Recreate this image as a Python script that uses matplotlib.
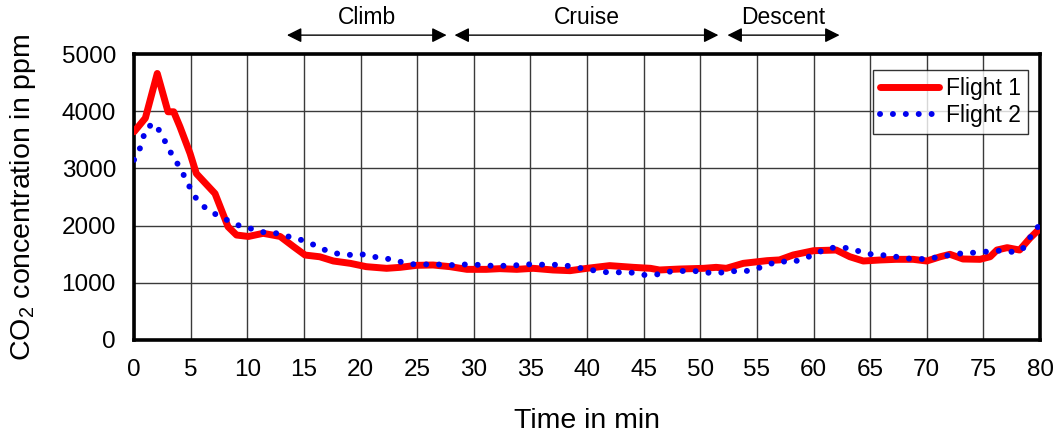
import matplotlib
matplotlib.use("Agg")
import matplotlib.pyplot as plt

plt.rcParams['font.family'] = ['Liberation Sans', 'DejaVu Sans']
plt.rcParams['mathtext.default'] = 'regular'

# Flight 1: CO2 concentration (ppm) over time (min)
t_flight1 = [0, 1.0, 2.05, 3.0, 3.5, 4.05, 4.95, 5.5, 7.15, 8.3, 9.05, 10.1, 11.4,
             12.9, 14.1, 15.1, 16.4, 17.6, 19.1, 20.5, 22.3, 23.5, 24.95, 26.4,
             27.9, 29.4, 31.1, 32.3, 33.8, 35.25, 37.0, 38.5, 40.0, 42.0, 44.1,
             45.6, 46.4, 48.2, 50.3, 51.4, 52.3, 53.8, 55.9, 57.0, 58.2, 60.0,
             62.0, 63.2, 64.4, 65.9, 67.3, 68.8, 70.0, 71.2, 72.05, 73.2, 74.7,
             75.6, 76.2, 77.1, 78.2, 79.1, 80]
co2_flight1 = [3640, 3880, 4660, 3990, 3990, 3730, 3260, 2910, 2560, 1980, 1835,
               1810, 1865, 1810, 1630, 1485, 1455, 1381, 1340, 1282, 1253, 1270,
               1305, 1311, 1282, 1235, 1235, 1247, 1235, 1253, 1224, 1212, 1253,
               1300, 1270, 1253, 1224, 1241, 1253, 1270, 1253, 1340, 1387, 1400,
               1486, 1561, 1573, 1456, 1381, 1399, 1410, 1410, 1381, 1456, 1498,
               1416, 1410, 1456, 1573, 1614, 1573, 1778, 1952]

# Flight 2
t_flight2 = [0, 0.4, 0.75, 1.05, 1.77, 2.45, 2.9, 3.4, 4.0, 4.5, 4.97, 5.56, 6.4,
             7.45, 8.4, 9.5, 10.5, 11.6, 12.65, 13.7, 14.75, 15.8, 16.7, 17.8,
             18.9, 20.0, 21.1, 22.2, 23.25, 24.3, 25.4, 26.5, 27.6, 28.7, 29.8,
             30.9, 32.0, 33.1, 34.2, 35.3, 36.4, 37.5, 38.6, 39.7, 40.75, 41.8,
             42.9, 44.0, 45.1, 46.2, 47.3, 48.4, 49.5, 50.6, 51.6, 52.7, 53.8,
             54.9, 55.9, 56.95, 58.0, 59.0, 60.1, 61.2, 62.2, 63.2, 64.3, 65.4,
             66.5, 67.6, 68.7, 69.8, 70.9, 72.0, 73.1, 74.2, 75.3, 76.4, 77.4,
             78.4, 79.0, 79.55, 80]
co2_flight2 = [3150, 3275, 3500, 3700, 3790, 3600, 3400, 3220, 3030, 2840, 2650,
               2450, 2290, 2170, 2080, 1980, 1940, 1875, 1865, 1805, 1750, 1670,
               1585, 1515, 1486, 1503, 1456, 1428, 1381, 1329, 1317, 1329, 1305,
               1317, 1323, 1305, 1294, 1300, 1311, 1329, 1311, 1317, 1288, 1247,
               1212, 1183, 1183, 1177, 1136, 1148, 1195, 1206, 1206, 1177, 1171,
               1206, 1195, 1241, 1311, 1381, 1358, 1410, 1498, 1603, 1620, 1603,
               1533, 1486, 1480, 1445, 1416, 1416, 1445, 1486, 1515, 1527, 1545,
               1561, 1539, 1573, 1748, 1940, 2000]

series_labels = ["Flight 1", "Flight 2"]
x_ticks = list(range(0, 81, 5))
y_ticks = [0, 1000, 2000, 3000, 4000, 5000]

# Flight phases: (name, start, end) in minutes
phases = [("Climb", 13.5, 27.6), ("Cruise", 28.3, 51.6), ("Descent", 52.4, 62.3)]

fig = plt.figure(figsize=(10.58, 4.37), dpi=100)
ax = fig.add_axes([0.1267, 0.222, 0.8563, 0.6544])

ax.plot(t_flight1, co2_flight1, color="#ff0000", lw=5, solid_joinstyle="round",
        solid_capstyle="round", label=series_labels[0], zorder=3)
ax.plot(t_flight2, co2_flight2, color="#0000ee", lw=4.3, linestyle=(0, (0.01, 2.15)),
        dash_capstyle="round", label=series_labels[1], zorder=4)

ax.set_xlim(0, 80)
ax.set_ylim(0, 5000)
ax.set_xticks(x_ticks)
ax.set_yticks(y_ticks)
ax.tick_params(axis="both", length=0, labelsize=17.5)
ax.tick_params(axis="x", pad=14)
ax.tick_params(axis="y", pad=13)
ax.grid(True, color="#3a3a3a", lw=1.0)
ax.set_axisbelow(True)
for sp in ax.spines.values():
    sp.set_linewidth(2.6)
    sp.set_color("black")

ax.set_xlabel("Time in min", fontsize=20.5, labelpad=19)
ax.set_ylabel("CO$_2$ concentration in ppm", fontsize=20.5, labelpad=17)

leg = ax.legend(loc="upper right", bbox_to_anchor=(0.987, 0.944), borderaxespad=0,
                fontsize=16.5, frameon=True, fancybox=False, handlelength=2.6,
                handletextpad=0.3, borderpad=0.3, labelspacing=0.2)
leg.get_frame().set_edgecolor("black")
leg.get_frame().set_linewidth(1.0)

trans = ax.get_xaxis_transform()
for name, start, end in phases:
    ax.annotate("", xy=(start, 1.066), xytext=(end, 1.066), xycoords=trans,
                textcoords=trans, annotation_clip=False,
                arrowprops=dict(arrowstyle="<|-|>", color="black", lw=1.0,
                                mutation_scale=22, shrinkA=0, shrinkB=0))
    ax.text((start + end) / 2, 1.126, name, transform=trans, ha="center",
            va="center", fontsize=16.5)

fig.savefig("out.png", dpi=100)
